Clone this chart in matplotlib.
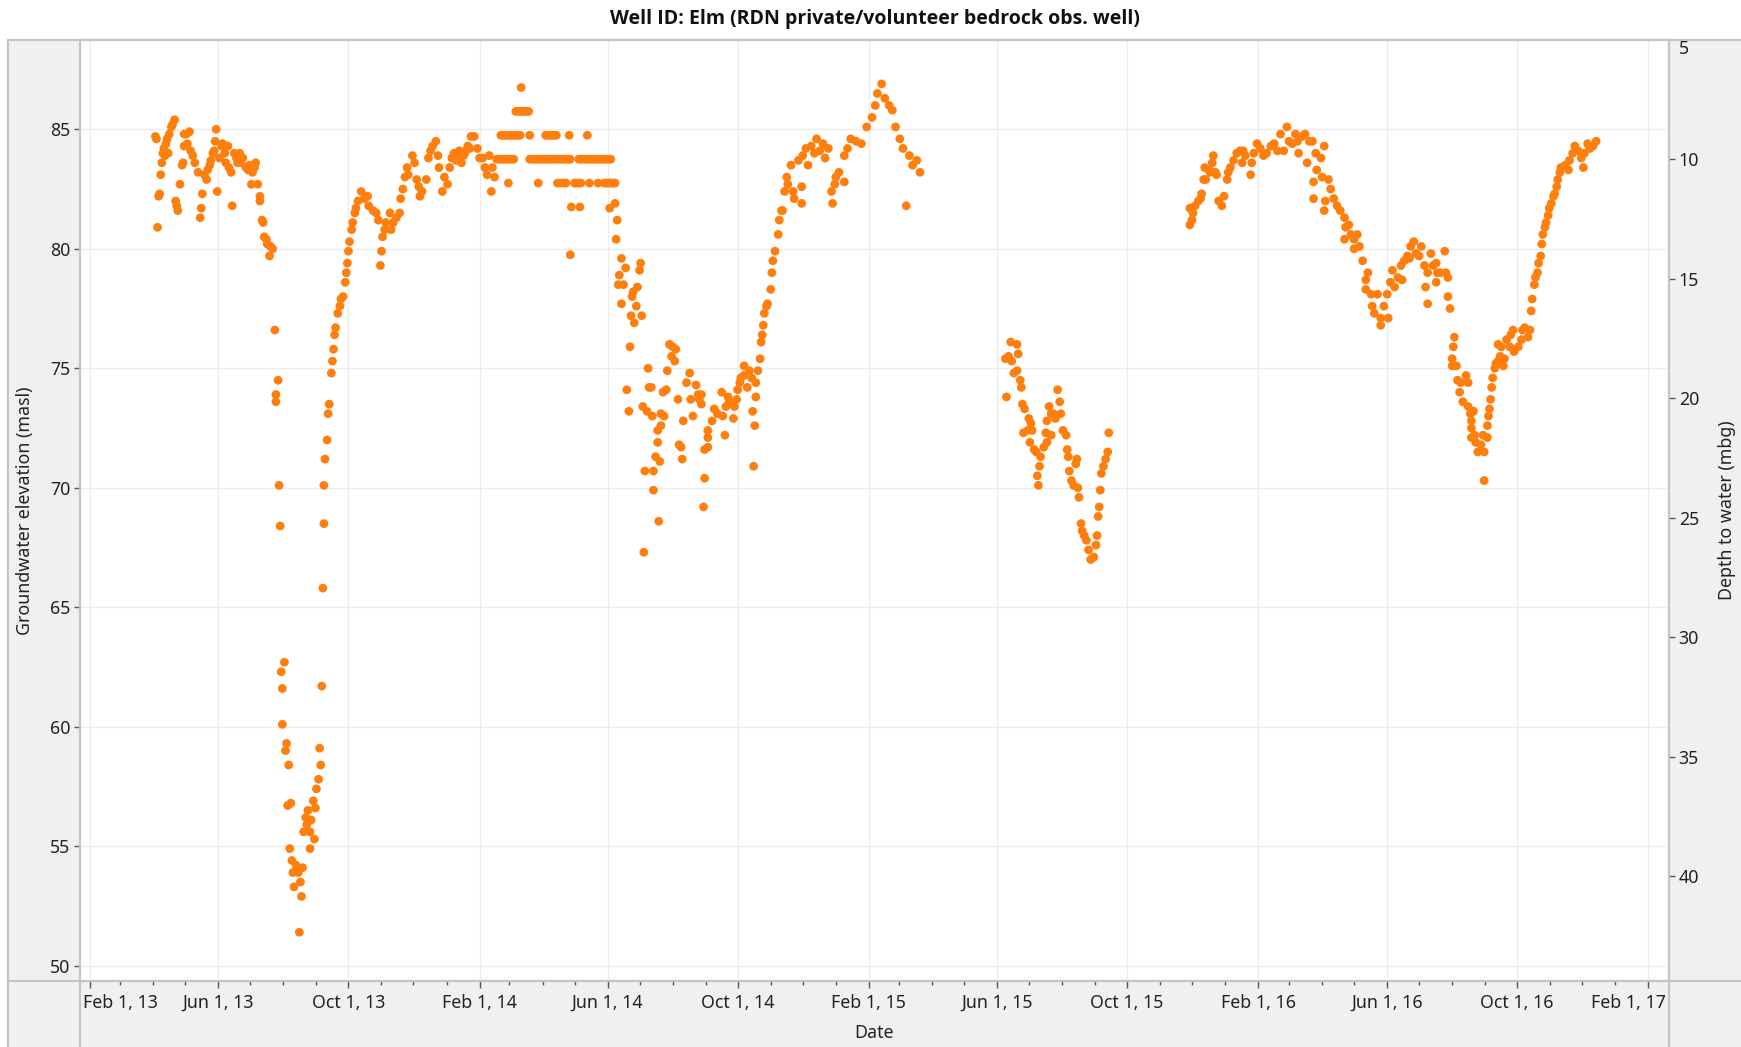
import numpy as np
import pandas as pd
import matplotlib
matplotlib.use("Agg")
import matplotlib.pyplot as plt
import matplotlib.dates as mdates
from matplotlib.patches import Rectangle
from matplotlib.lines import Line2D
from matplotlib.ticker import FuncFormatter
from matplotlib.transforms import ScaledTranslation

plt.rcParams['font.family'] = ['Noto Sans', 'DejaVu Sans']

origin = pd.Timestamp('2013-02-01')

obs_2013 = [
    (61, 84.7), (62, 84.6), (63, 80.9), (64, 82.2), (65, 82.3), (66, 83.1), (67, 83.6),
    (68, 84.0), (69, 84.2), (70, 83.9), (71, 84.4), (72, 84.6), (73, 84.0), (74, 84.8),
    (76, 85.1), (77, 85.2), (79, 85.4), (80, 82.0), (81, 81.8), (82, 81.6), (84, 82.7),
    (86, 83.5), (87, 83.6), (88, 84.3), (88, 84.8), (90, 84.8), (91, 84.4), (93, 84.9),
    (94, 84.1), (96, 83.9), (98, 83.6), (101, 83.2), (103, 81.3), (104, 81.7), (105, 82.3),
    (107, 83.1), (109, 82.9), (110, 83.3), (112, 83.5), (113, 83.7), (115, 84.0), (116, 84.1),
    (117, 84.5), (118, 85.0), (119, 82.4), (121, 83.8), (123, 84.3), (124, 84.4), (126, 84.0),
    (127, 83.6), (129, 84.3), (130, 83.4), (132, 83.2), (133, 81.8), (135, 84.0), (137, 83.8),
    (138, 83.6), (140, 84.0), (141, 83.6), (143, 83.8), (146, 83.4), (148, 83.3), (149, 83.5),
    (151, 82.7), (152, 83.2), (154, 83.4), (155, 83.6), (157, 82.7), (159, 82.2), (159, 82.0),
    (161, 81.2), (162, 81.1), (163, 80.5), (165, 80.4), (166, 80.2), (168, 79.7), (169, 80.1),
    (171, 80.0), (173, 76.6), (174, 73.6), (174, 73.9), (176, 74.5), (177, 70.1), (178, 68.4),
    (179, 62.3), (180, 61.6), (180, 60.1), (182, 62.7), (183, 59.0), (184, 59.3), (185, 56.7),
    (186, 58.4), (187, 54.9), (188, 56.8), (189, 54.4), (190, 53.9), (191, 53.3), (193, 54.2),
    (195, 53.9), (196, 51.4), (197, 53.5), (198, 52.9), (199, 54.1), (200, 55.6), (202, 56.2),
    (203, 55.9), (204, 56.5), (206, 55.6), (206, 54.9), (207, 56.1), (209, 56.9), (210, 55.3),
    (211, 56.6), (212, 57.4), (214, 57.8), (215, 59.1), (216, 58.4), (217, 61.7), (218, 65.8),
    (219, 68.5), (219, 70.1), (220, 71.2), (222, 72.0), (223, 73.1), (224, 73.5), (226, 74.8),
    (227, 75.3), (228, 75.8), (229, 76.4), (230, 76.7), (232, 77.3), (234, 77.6), (235, 77.9),
    (237, 78.0), (239, 78.6), (240, 79.0), (241, 79.4), (242, 79.9), (243, 80.3), (245, 80.8),
    (246, 81.1), (248, 81.5), (249, 81.7), (251, 82.0), (254, 82.4), (257, 82.1), (260, 82.2),
    (261, 81.8), (265, 81.6), (268, 81.5), (270, 81.2), (272, 79.3), (273, 79.9), (274, 80.5),
    (276, 80.8), (277, 81.1), (281, 81.5), (282, 80.8), (284, 81.1), (287, 81.3), (290, 81.5),
    (291, 82.1), (293, 82.5), (295, 83.0), (297, 83.4), (298, 83.1), (302, 83.9), (304, 83.6),
    (306, 82.9), (308, 82.6), (309, 82.2), (311, 82.4), (315, 82.9), (317, 83.8), (319, 84.1),
    (321, 84.3), (324, 84.5), (326, 83.9), (327, 83.4), (330, 82.4), (332, 83.0), (335, 82.7),
    (337, 83.4), (339, 83.8), (341, 84.0), (343, 83.7), (345, 83.8), (346, 84.1), (348, 83.6),
    (350, 83.9), (351, 84.0), (352, 84.1), (354, 84.3), (356, 84.2), (357, 84.7), (360, 84.7),
    (363, 84.2), (365, 83.8), (368, 83.8), (370, 83.4), (372, 83.1), (374, 83.9), (376, 82.4),
    (377, 83.4), (379, 83.0),
]

# spring 2014: readings fall on whole-metre depths
step_levels = [86.75, 85.75, 84.75, 83.75, 82.75, 81.75, 79.75]
step_days = [
    [404],
    [399, 401, 403, 405, 407, 409, 411],
    [385, 387, 389, 391, 393, 395, 397, 399, 401, 403, 412, 427, 429, 431, 433, 435, 437,
     449, 466],
    [381, 383, 385, 387, 389, 391, 393, 395, 397, 412, 414, 416, 418, 420, 422, 424, 426,
     428, 430, 432, 434, 436, 438, 440, 442, 444, 446, 448, 450, 458, 460, 462, 464, 466,
     468, 470, 472, 474, 476, 478, 480, 482, 484, 486, 488],
    [392, 420, 438, 441, 444, 446, 454, 456, 458, 460, 468, 476, 482, 484, 486, 488, 490, 492],
    [451, 459],
    [450],
]

obs_2014 = [
    (487, 81.7), (492, 81.9), (493, 80.4), (494, 81.2), (495, 78.5), (496, 78.9), (498, 79.6),
    (498, 77.7), (500, 78.5), (502, 79.2), (503, 74.1), (505, 73.2), (506, 75.9), (507, 77.2),
    (508, 78.0), (509, 78.2), (510, 76.9), (512, 77.6), (513, 78.4), (515, 79.1), (516, 79.4),
    (517, 77.2), (518, 73.4), (519, 67.3), (520, 70.7), (522, 73.2), (523, 75.0), (524, 74.2),
    (526, 74.2), (527, 73.0), (528, 70.7), (528, 69.9), (530, 71.3), (532, 72.4), (532, 71.9),
    (533, 68.6), (534, 71.1), (535, 73.1), (535, 72.6), (537, 74.0), (538, 73.0), (540, 74.1),
    (541, 74.9), (543, 76.0), (545, 75.5), (546, 75.9), (548, 75.3), (549, 75.8), (551, 73.7),
    (552, 71.8), (554, 71.7), (555, 71.2), (556, 72.8), (559, 74.4), (562, 74.8), (563, 73.7),
    (565, 73.0), (568, 74.3), (570, 73.9), (571, 73.7), (573, 73.9), (573, 73.5), (575, 69.2),
    (576, 71.6), (576, 70.4), (579, 71.7), (579, 72.1), (579, 72.4), (583, 72.8), (585, 73.3),
    (588, 73.1), (592, 74.0), (593, 73.0), (595, 72.2), (596, 73.4), (598, 73.8), (599, 73.6),
    (603, 72.9), (604, 73.4), (606, 73.7), (607, 74.1), (609, 74.4), (610, 74.6), (613, 75.1),
    (613, 74.7), (616, 74.2), (618, 74.9), (620, 74.6), (621, 73.2), (622, 70.9), (623, 72.6),
    (624, 74.4), (624, 73.8), (626, 74.9), (628, 75.4), (629, 76.1), (630, 76.4), (631, 76.8),
    (632, 77.3), (634, 77.6), (635, 77.7), (638, 78.3), (639, 79.0), (640, 79.5), (642, 79.9),
    (645, 80.6), (646, 81.2), (648, 81.6), (649, 81.6), (651, 82.4), (653, 83.0), (654, 82.7),
    (657, 83.5), (659, 82.4), (660, 82.1), (664, 83.7), (667, 81.9), (667, 82.6), (668, 83.9),
    (671, 84.2), (673, 83.5), (676, 84.3), (679, 84.0), (681, 84.6), (684, 84.1), (687, 84.4),
    (689, 83.8), (692, 84.2), (695, 82.4), (696, 81.9), (698, 82.7), (699, 83.0), (702, 83.2),
    (707, 82.8), (707, 83.9), (710, 84.2), (713, 84.6), (718, 84.5), (723, 84.4), (728, 85.1),
    (733, 85.5), (736, 86.0), (738, 86.5), (742, 86.9), (745, 86.3), (749, 86.0), (752, 85.8),
    (755, 85.1), (759, 84.6), (762, 84.2), (765, 81.8), (768, 83.9), (771, 83.5), (775, 83.7),
    (778, 83.2),
]

obs_2015 = [
    (858, 75.4), (859, 73.8), (861, 75.5), (863, 76.1), (864, 75.3), (866, 74.8), (869, 76.0),
    (869, 74.9), (870, 75.6), (872, 74.5), (873, 74.2), (874, 73.5), (875, 72.3), (876, 73.3),
    (879, 72.4), (880, 72.9), (881, 71.9), (882, 72.7), (883, 72.4), (885, 71.6), (887, 71.5),
    (888, 70.5), (889, 70.1), (890, 70.9), (891, 71.3), (894, 71.7), (896, 72.3), (897, 71.9),
    (897, 72.8), (899, 73.4), (901, 73.1), (901, 72.2), (903, 73.1), (905, 72.9), (907, 74.1),
    (909, 73.6), (910, 73.1), (912, 72.4), (915, 72.2), (916, 71.6), (917, 71.3), (918, 70.7),
    (920, 70.3), (922, 70.1), (924, 71.0), (925, 71.2), (926, 70.0), (927, 69.6), (929, 68.5),
    (930, 68.2), (932, 68.0), (934, 67.8), (936, 67.4), (938, 67.0), (941, 67.1), (943, 67.6),
    (944, 68.0), (945, 68.8), (946, 69.2), (947, 69.9), (948, 70.6), (950, 70.9), (952, 71.2),
    (954, 71.5), (955, 72.3),
]

obs_2016 = [
    (1031, 81.0), (1031, 81.7), (1033, 81.2), (1034, 81.5), (1036, 81.8), (1039, 82.0),
    (1041, 82.1), (1042, 82.3), (1044, 82.9), (1045, 83.4), (1046, 82.9), (1049, 83.3),
    (1050, 83.2), (1052, 83.6), (1053, 83.9), (1055, 83.2), (1056, 83.1), (1058, 82.0),
    (1061, 81.8), (1063, 82.2), (1066, 82.9), (1067, 83.2), (1069, 83.4), (1072, 83.7),
    (1075, 84.0), (1078, 84.1), (1080, 83.6), (1081, 84.1), (1083, 83.9), (1088, 83.1),
    (1089, 83.6), (1091, 84.0), (1094, 84.4), (1097, 84.2), (1100, 83.9), (1103, 84.0),
    (1107, 84.3), (1110, 84.4), (1113, 84.1), (1116, 84.8), (1119, 84.1), (1122, 85.1),
    (1124, 84.5), (1127, 84.4), (1130, 84.8), (1132, 84.5), (1133, 84.0), (1136, 84.7),
    (1139, 84.8), (1141, 83.6), (1143, 84.5), (1146, 84.5), (1147, 82.8), (1147, 82.1),
    (1149, 84.0), (1150, 83.3), (1154, 83.8), (1155, 83.0), (1157, 84.3), (1157, 81.6),
    (1158, 82.0), (1161, 82.9), (1163, 82.5), (1166, 82.1), (1169, 81.8), (1172, 81.6),
    (1176, 81.3), (1176, 80.4), (1177, 80.9), (1180, 81.0), (1182, 80.6), (1185, 80.4),
    (1185, 80.0), (1188, 80.6), (1190, 80.1), (1193, 79.5), (1196, 78.7), (1196, 78.3),
    (1198, 79.0), (1201, 78.1), (1202, 77.6), (1204, 77.3), (1207, 78.1), (1210, 77.1),
    (1210, 76.8), (1213, 77.6), (1216, 78.1), (1217, 77.1), (1219, 78.6), (1221, 79.1),
    (1223, 78.4), (1226, 78.8), (1229, 79.3), (1230, 78.7), (1232, 79.5), (1235, 79.7),
    (1237, 79.6), (1238, 80.1), (1241, 80.3), (1243, 79.8), (1246, 79.7), (1248, 80.1),
    (1251, 79.3), (1252, 78.4), (1254, 79.0), (1254, 77.7), (1257, 79.8), (1259, 79.3),
    (1262, 79.4), (1262, 78.6), (1263, 79.0), (1266, 79.0), (1270, 79.9), (1271, 79.0),
    (1273, 78.8), (1273, 78.0), (1275, 77.5), (1277, 75.1), (1277, 75.4), (1278, 75.9),
    (1279, 76.3), (1281, 75.1), (1282, 74.5), (1284, 74.0), (1285, 74.4), (1287, 73.6),
    (1290, 74.7), (1292, 74.4), (1292, 73.4), (1294, 73.1), (1295, 72.8), (1295, 72.5),
    (1295, 72.1), (1297, 73.2), (1298, 72.2), (1299, 71.9), (1301, 71.5), (1304, 71.8),
    (1306, 72.2), (1307, 71.5), (1307, 70.3), (1310, 72.1), (1310, 72.6), (1311, 73.0),
    (1312, 73.3), (1313, 73.7), (1314, 74.2), (1315, 74.6), (1317, 75.0), (1318, 75.2),
    (1320, 75.3), (1320, 76.0), (1322, 75.5), (1323, 75.9), (1325, 75.1), (1326, 75.4),
    (1328, 76.2), (1331, 75.9), (1332, 76.4), (1334, 76.6), (1335, 75.7), (1339, 75.9),
    (1342, 76.2), (1343, 76.6), (1345, 76.7), (1348, 76.3), (1350, 76.6), (1351, 77.4),
    (1352, 77.9), (1354, 78.5), (1355, 78.8), (1357, 79.0), (1358, 79.4), (1360, 79.7),
    (1361, 80.2), (1362, 80.6), (1364, 80.9), (1365, 81.1), (1367, 81.4), (1368, 81.7),
    (1370, 81.9), (1372, 82.2), (1373, 82.3), (1375, 82.6), (1376, 82.9), (1378, 83.2),
    (1379, 83.4), (1383, 83.5), (1386, 83.3), (1387, 83.7), (1390, 84.0), (1392, 84.3),
    (1395, 84.1), (1398, 83.8), (1400, 83.4), (1401, 84.0), (1404, 84.4), (1406, 84.2),
    (1409, 84.3), (1412, 84.5),
]

datum = 93.75                 # elevation = datum - depth
elev_ticks = [50, 55, 60, 65, 70, 75, 80, 85]
depth_ticks = [5, 10, 15, 20, 25, 30, 35, 40]
elev_range = (49.36, 88.75)
day_range = (-9.7, 1480.3)

title = 'Well ID: Elm (RDN private/volunteer bedrock obs. well)'
orange = '#ff7f0e'
frame = '#c4c4c4'
txt = '#222222'
fs = 12.8

# ---- assemble
steps = [(d, lvl) for lvl, ds in zip(step_levels, step_days) for d in ds]
pairs = obs_2013 + steps + obs_2014 + obs_2015 + obs_2016
days = np.array([p[0] for p in pairs], dtype=float)
elev = np.array([p[1] for p in pairs])
dates = origin + pd.to_timedelta(days, unit='D')

W, H = 1741, 1047
fig = plt.figure(figsize=(W / 100, H / 100), dpi=100)
L, R = 80 / W, 1669 / W
B, T = 1 - 981 / H, 1 - 39.7 / H

# gray panel surrounding the plot
fig.add_artist(Rectangle((7.6 / W, -0.01), 1.01 - 7.6 / W, T + 0.01, transform=fig.transFigure,
                         facecolor='#f0f0f0', edgecolor=frame, lw=1.5, zorder=-2))
fig.add_artist(Line2D([L, L], [0, B], transform=fig.transFigure, color=frame, lw=1.5, zorder=-1))
fig.add_artist(Line2D([R, R], [0, B], transform=fig.transFigure, color=frame, lw=1.5, zorder=-1))
fig.add_artist(Line2D([7.6 / W, 1], [B, B], transform=fig.transFigure, color=frame, lw=1.5, zorder=-1))

ax = fig.add_axes([L, B, R - L, T - B])
ax.set_facecolor('white')
ax.scatter(dates, elev, s=40, color=orange, edgecolors='none', zorder=3)

ax.set_xlim(origin + pd.Timedelta(days=day_range[0]), origin + pd.Timedelta(days=day_range[1]))
ax.set_ylim(*elev_range)
ax.set_yticks(elev_ticks)
ax.xaxis.set_major_locator(mdates.MonthLocator(bymonth=[2, 6, 10]))
ax.xaxis.set_minor_locator(mdates.MonthLocator())


def date_label(v, pos=None):
    d = mdates.num2date(v)
    return f"{d:%b} {d.day}, {d:%y}"


ax.xaxis.set_major_formatter(FuncFormatter(date_label))
ax.grid(True, which='major', color='#ececec', lw=1)
ax.set_axisbelow(True)
for s in ax.spines.values():
    s.set_color(frame)
    s.set_linewidth(1.5)
ax.tick_params(axis='both', which='both', direction='out', color='#555555',
               labelsize=fs, labelcolor=txt, width=1)
ax.tick_params(axis='x', which='major', length=5, pad=4)
ax.tick_params(axis='x', which='minor', length=3)
ax.tick_params(axis='y', length=4, pad=3)

ax.set_xlabel('Date', fontsize=fs, color=txt)
ax.xaxis.set_label_coords(0.5, -0.0552)
ax.xaxis.label.set_va('center')
ax.set_ylabel('Groundwater elevation (masl)', fontsize=fs, color=txt)
ax.yaxis.set_label_coords(-0.0349, 0.5)
ax.yaxis.label.set_va('center')

ax2 = ax.twinx()
ax2.set_ylim(datum - elev_range[0], datum - elev_range[1])
ax2.set_yticks(depth_ticks)
for s in ax2.spines.values():
    s.set_color(frame)
    s.set_linewidth(1.5)
ax2.tick_params(axis='y', direction='out', color='#555555', labelsize=fs,
                labelcolor=txt, length=4, pad=3, width=1)
ax2.set_ylabel('Depth to water (mbg)', fontsize=fs, color=txt)
ax2.yaxis.set_label_coords(1.0365, 0.5)
ax2.yaxis.label.set_va('center')

title_x = (L + R) / 2
fig.text(title_x, 1 - 19 / H, title, ha='center', va='center', fontsize=14,
         fontweight='bold', color='#111111', family=['Open Sans', 'Lato', 'DejaVu Sans'])

fig.canvas.draw()
# keep the end date labels inside the plot like the original
locs = ax.xaxis.get_majorticklocs()
ticks = ax.xaxis.get_major_ticks()
first_loc = mdates.date2num(origin)
last_loc = mdates.date2num(pd.Timestamp('2017-02-01'))
for loc, tk in zip(locs, ticks):
    if abs(loc - first_loc) < 1:
        tk.label1.set_ha('left')
        tk.label1.set_transform(tk.label1.get_transform() +
                                ScaledTranslation(-0.07, 0, fig.dpi_scale_trans))
    elif abs(loc - last_loc) < 1:
        tk.label1.set_ha('right')
        tk.label1.set_transform(tk.label1.get_transform() +
                                ScaledTranslation(0.17, 0, fig.dpi_scale_trans))

# the top depth label sits just below the frame, without a tick mark
for loc, tk in zip(ax2.yaxis.get_majorticklocs(), ax2.yaxis.get_major_ticks()):
    if abs(loc - depth_ticks[0]) < 1e-6:
        tk.label2.set_va('top')
        tk.tick2line.set_visible(False)

fig.savefig('out.png', dpi=100)
